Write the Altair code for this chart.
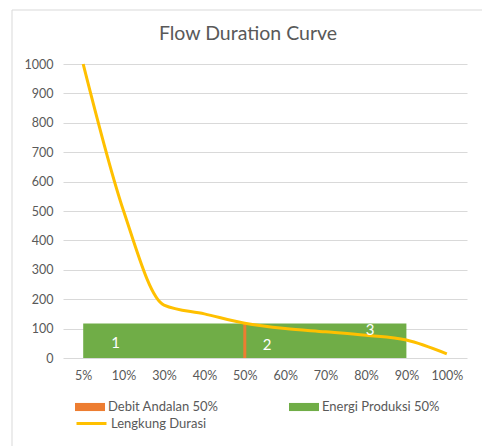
import altair as alt
import pandas as pd

# ---- data ----
categories = ["5%", "10%", "30%", "40%", "50%", "60%", "70%", "80%", "90%", "100%"]
durasi = [1000, 500, 180, 150, 118, 100, 89, 77, 61, 14]

energi_start = "5%"
energi_end = "90%"
energi_value = 117

debit_cat = "50%"
debit_value = 120

label_texts = ["1", "2", "3"]
label_cats = ["10%", "60%", "80%"]
label_values = [52, 44, 94]

y_ticks = [0, 100, 200, 300, 400, 500, 600, 700, 800, 900, 1000]

series_names = ["Debit Andalan 50%", "Energi Produksi 50%", "Lengkung Durasi"]

# ---- styling ----
FONT = "Lato"
GREY = "#595959"
ORANGE = "#ED7D31"
GREEN = "#70AD47"
GOLD = "#FFC000"
label_dx = [-8, -18, 4]

xscale = alt.Scale(type="point", domain=categories, padding=0.5)
yscale = alt.Scale(domain=[0, 1000], nice=False)

x_axis = alt.Axis(title=None, labelAngle=0, domain=False, ticks=False, grid=False,
                  labelPadding=11, labelFont=FONT, labelFontSize=12.5, labelColor=GREY)
y_axis = alt.Axis(title=None, values=y_ticks, format="d",
                  labelOverlap=False, domain=False, ticks=False,
                  grid=True, gridColor="#d9d9d9", gridWidth=1, labelPadding=10,
                  labelFont=FONT, labelFontSize=12.5, labelColor=GREY)

X = lambda f: alt.X(f, scale=xscale, axis=x_axis, sort=categories)
Y = lambda f: alt.Y(f, scale=yscale, axis=y_axis)

line_df = pd.DataFrame({"cat": categories, "val": durasi, "series": series_names[2]})
rect_df = pd.DataFrame({"cat": [energi_start], "cat2": [energi_end], "val": [energi_value],
                        "series": [series_names[1]]})
rule_df = pd.DataFrame({"cat": [debit_cat], "val": [debit_value], "series": [series_names[0]]})

bar_legend = alt.Legend(title=None, orient="none", legendX=12, legendY=328,
                        direction="horizontal", columns=2, columnPadding=70,
                        symbolType="M-1,-0.27H1V0.27H-1Z", symbolSize=900,
                        symbolStrokeWidth=0, labelOffset=3, labelFont=FONT,
                        labelFontSize=13, labelColor=GREY, padding=0)
color_bar = alt.Color("series:N",
                      scale=alt.Scale(domain=series_names[:2], range=[ORANGE, GREEN]),
                      legend=bar_legend)

line_legend = alt.Legend(title=None, orient="none", legendX=12, legendY=343,
                         symbolType="stroke", symbolSize=900, symbolStrokeWidth=3,
                         labelOffset=3, labelFont=FONT, labelFontSize=13,
                         labelColor=GREY, padding=0)
color_line = alt.Color("series:N",
                       scale=alt.Scale(domain=[series_names[2]], range=[GOLD]),
                       legend=line_legend)

frame = alt.Chart(pd.DataFrame({"k": [0]})).mark_rect(
    fill="transparent", stroke="#d9d9d9", strokeWidth=1
).encode(x=alt.value(-51), y=alt.value(-54), x2=alt.value(440), y2=alt.value(420))

rect = alt.Chart(rect_df).mark_rect().encode(
    x=X("cat:N"),
    x2="cat2:N",
    y=Y("val:Q"),
    y2=alt.datum(0),
    color=color_bar,
)

rule = alt.Chart(rule_df).mark_rule(strokeWidth=3).encode(
    x=X("cat:N"),
    y=Y("val:Q"),
    y2=alt.datum(0),
    color=color_bar,
)

line = alt.Chart(line_df).mark_line(strokeWidth=3, interpolate="monotone").encode(
    x=X("cat:N"),
    y=Y("val:Q"),
    color=color_line,
)

texts = []
for t, c, v, dx in zip(label_texts, label_cats, label_values, label_dx):
    df = pd.DataFrame({"cat": [c], "val": [v], "txt": [t]})
    texts.append(
        alt.Chart(df).mark_text(color="white", font=FONT, fontSize=15, dx=dx).encode(
            x=X("cat:N"),
            y=Y("val:Q"),
            text="txt:N",
        )
    )

chart = alt.layer(
    frame, alt.layer(rect, rule), line, *texts
).resolve_scale(color="independent").properties(
    width=404,
    height=294,
    title=alt.TitleParams("Flow Duration Curve", font=FONT, fontSize=19.5, color=GREY,
                          fontWeight="normal", anchor="middle", dx=-17, offset=-35),
    autosize=alt.AutoSizeParams(type="none"),
    padding={"left": 63, "top": 64, "right": 15, "bottom": 88},
).configure_view(strokeWidth=0)

chart.save("out.html", embed_options={"renderer": "svg", "actions": False})
